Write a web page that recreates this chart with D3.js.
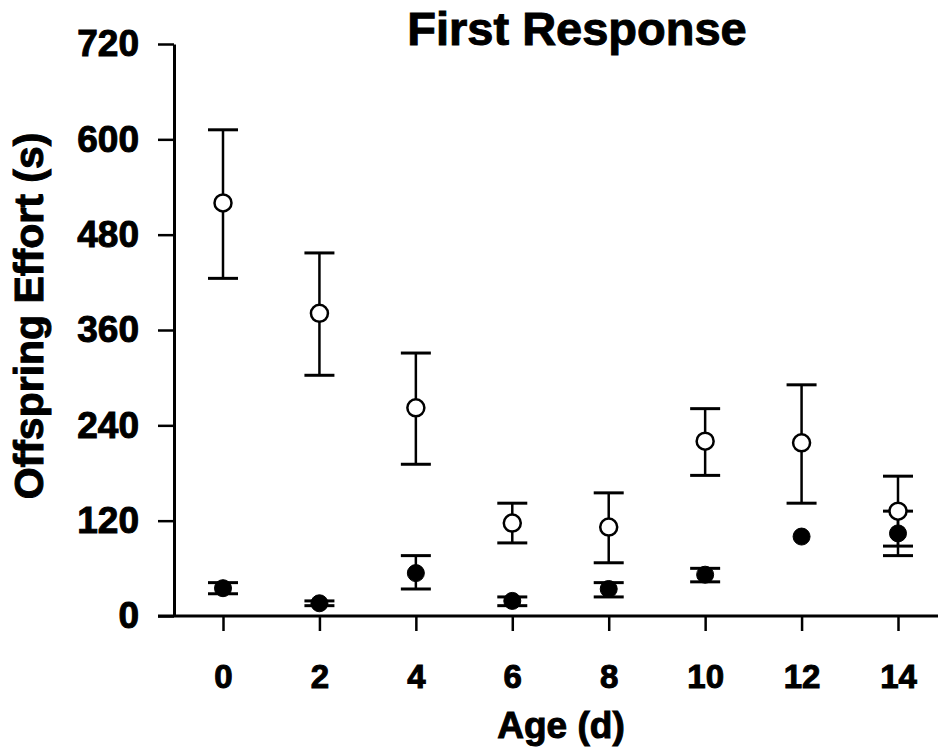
<!DOCTYPE html>
<html>
<head>
<meta charset="utf-8">
<script src="https://cdn.jsdelivr.net/npm/d3@7"></script>
<style>
  body { margin: 0; background: #fff; }
  text { font-family: "Liberation Sans", Arial, Helvetica, sans-serif; font-weight: bold; fill: #000; stroke: #000; stroke-width: 1; }
</style>
</head>
<body>
<svg id="chart" width="938" height="754"></svg>
<script>
// Ages (days) on the x axis
var ages = [0, 2, 4, 6, 8, 10, 12, 14];

// Open circles: mean, upper and lower error bar ends
var openMean  = [520, 381, 262, 117, 112, 220, 218, 132];
var openUpper = [612, 457, 331, 142, 155, 261, 291, 176];
var openLower = [425, 303, 191,  92,  67, 177, 142,  88];

// Filled circles: mean, upper and lower error bar ends (null = bar hidden by marker)
var filledMean  = [35, 16, 54, 19, 34, 52, 100, 104];
var filledUpper = [42, 19, 76, 24, 42, 60, null, 132];
var filledLower = [28, 13, 34, 13, 24, 43, null,  76];

// Tick labels
var yTicks = [0, 120, 240, 360, 480, 600, 720];

var svg = d3.select("#chart");

// Scales
var x = d3.scaleLinear().domain([0, 14]).range([223, 898]);
var y = d3.scaleLinear().domain([0, 720]).range([616, 44]);
var axisX = 174;

// Title
svg.append("text")
    .attr("x", 577)
    .attr("y", 45)
    .attr("text-anchor", "middle")
    .style("font-size", "47px")
    .text("First Response");

// Y axis
var gy = svg.append("g")
    .attr("transform", "translate(" + axisX + ",0)")
    .call(d3.axisLeft(y).tickValues(yTicks).tickSize(16).tickSizeOuter(0).tickPadding(19));
gy.select(".domain").attr("stroke-width", 3);
gy.selectAll(".tick line").attr("stroke-width", 2.5);
gy.selectAll(".tick text")
    .style("font-size", "37px")
    .style("font-family", "'Liberation Sans', Arial, sans-serif")
    .style("font-weight", "bold");

// X axis
var gx = svg.append("g")
    .attr("transform", "translate(0," + y(0) + ")")
    .call(d3.axisBottom(x).tickValues(ages).tickSize(15).tickSizeOuter(0).tickPadding(34));
gx.select(".domain").remove();
gx.append("line")
    .attr("x1", axisX - 16)
    .attr("x2", 938)
    .attr("stroke", "#000")
    .attr("stroke-width", 3);
gx.selectAll(".tick line").attr("stroke-width", 2.5);
gx.selectAll(".tick text")
    .style("font-size", "33px")
    .style("font-family", "'Liberation Sans', Arial, sans-serif")
    .style("font-weight", "bold");

// Axis titles
svg.append("text")
    .attr("x", 561)
    .attr("y", 738)
    .attr("text-anchor", "middle")
    .style("font-size", "37px")
    .text("Age (d)");

svg.append("text")
    .attr("transform", "translate(43,316) rotate(-90)")
    .attr("text-anchor", "middle")
    .style("font-size", "41px")
    .text("Offspring Effort (s)");

// Build rows for each series
function rows(mean, upper, lower) {
    return ages.map(function (a, i) {
        return { age: a, mean: mean[i], upper: upper[i], lower: lower[i] };
    });
}

function drawSeries(data, filled, capHalf) {
    var g = svg.append("g");
    var withErr = data.filter(function (d) { return d.upper != null; });
    var bars = g.selectAll(".err").data(withErr).enter().append("g");
    bars.append("line")
        .attr("x1", function (d) { return x(d.age); })
        .attr("x2", function (d) { return x(d.age); })
        .attr("y1", function (d) { return y(d.upper); })
        .attr("y2", function (d) { return y(d.lower); })
        .attr("stroke", "#000")
        .attr("stroke-width", 2.5);
    [function (d) { return y(d.upper); }, function (d) { return y(d.lower); }].forEach(function (fy) {
        bars.append("line")
            .attr("x1", function (d) { return x(d.age) - capHalf; })
            .attr("x2", function (d) { return x(d.age) + capHalf; })
            .attr("y1", fy)
            .attr("y2", fy)
            .attr("stroke", "#000")
            .attr("stroke-width", 3);
    });
    g.selectAll("circle").data(data).enter().append("circle")
        .attr("cx", function (d) { return x(d.age); })
        .attr("cy", function (d) { return y(d.mean); })
        .attr("r", 8.5)
        .attr("fill", filled ? "#000" : "#fff")
        .attr("stroke", "#000")
        .attr("stroke-width", filled ? 1 : 2.5);
}

drawSeries(rows(filledMean, filledUpper, filledLower), true, 15);
drawSeries(rows(openMean, openUpper, openLower), false, 15);
</script>
</body>
</html>
